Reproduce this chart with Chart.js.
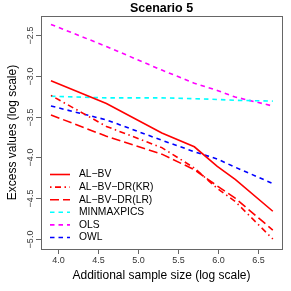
<!DOCTYPE html>
<html>
<head>
<meta charset="utf-8">
<script src="https://cdn.jsdelivr.net/npm/chart.js@4.4.0/dist/chart.umd.min.js"></script>
<style>
  html, body { margin: 0; padding: 0; background: #fff; }
  #myChart { display: block; }
</style>
</head>
<body>
<canvas id="myChart" width="291" height="291"></canvas>
<script>
// log of additional sample size
var sampleSizeLog = [3.912, 4.605, 5.298, 5.704, 5.991, 6.215, 6.685];

var alBV      = [-3.06, -3.34, -3.70, -3.87, -4.11, -4.27, -4.66];
var alBVDRKR  = [-3.24, -3.62, -3.88, -4.13, -4.38, -4.54, -5.00];
var alBVDRLR  = [-3.48, -3.74, -3.96, -4.15, -4.35, -4.50, -4.89];
var minmax    = [-3.25, -3.27, -3.27, -3.28, -3.29, -3.30, -3.31];
var ols       = [-2.37, -2.64, -2.93, -3.09, -3.18, -3.26, -3.37];
var owl       = [-3.37, -3.54, -3.79, -3.93, -4.02, -4.12, -4.32];

var seriesNames = ['AL\u2212BV', 'AL\u2212BV\u2212DR(KR)', 'AL\u2212BV\u2212DR(LR)', 'MINMAXPICS', 'OLS', 'OWL'];
var xTicks = [4.0, 4.5, 5.0, 5.5, 6.0, 6.5];
var yTicks = [-2.5, -3.0, -3.5, -4.0, -4.5, -5.0];

function pts(ys) {
  return ys.map(function (y, i) { return { x: sampleSizeLog[i], y: y }; });
}

function ds(label, ys, color, dash) {
  return {
    label: label,
    data: pts(ys),
    borderColor: color,
    borderWidth: 1.6,
    borderDash: dash,
    pointRadius: 0,
    tension: 0,
    fill: false
  };
}

var FONT = '"Liberation Sans", Arial, Helvetica, sans-serif';
function fmt(v) {
  var s = v.toFixed(1);
  return v < 0 ? '\u2212' + s.slice(1) : s;
}

var rStyle = {
  id: 'rStyle',
  afterDraw: function (chart) {
    var ctx = chart.ctx, a = chart.chartArea;
    var xs = chart.scales.x, ys = chart.scales.y;
    ctx.save();
    ctx.strokeStyle = '#666';
    ctx.lineWidth = 1;
    ctx.setLineDash([]);
    ctx.strokeRect(Math.round(a.left) + 0.5, Math.round(a.top) + 0.5,
      Math.round(a.right - a.left), Math.round(a.bottom - a.top));

    // x ticks
    ctx.fillStyle = '#333';
    ctx.font = '9px ' + FONT;
    ctx.textAlign = 'center';
    ctx.textBaseline = 'middle';
    xTicks.forEach(function (t) {
      var px = Math.round(xs.getPixelForValue(t)) + 0.5;
      ctx.beginPath();
      ctx.moveTo(px, a.bottom);
      ctx.lineTo(px, a.bottom + 5);
      ctx.stroke();
      ctx.fillText(t.toFixed(1), px, 261);
    });
    // y ticks, rotated labels
    yTicks.forEach(function (t) {
      var py = Math.round(ys.getPixelForValue(t)) + 0.5;
      ctx.beginPath();
      ctx.moveTo(a.left, py);
      ctx.lineTo(a.left - 5, py);
      ctx.stroke();
      ctx.save();
      ctx.translate(31, py);
      ctx.rotate(-Math.PI / 2);
      ctx.fillText(fmt(t), 0, 0);
      ctx.restore();
    });

    // titles
    ctx.fillStyle = '#000';
    ctx.font = 'bold 12.5px ' + FONT;
    ctx.fillText('Scenario 5', (a.left + a.right) / 2, 9);
    ctx.font = '12px ' + FONT;
    ctx.fillText('Additional sample size (log scale)', (a.left + a.right) / 2, 276);
    ctx.save();
    ctx.translate(13, (a.top + a.bottom) / 2);
    ctx.rotate(-Math.PI / 2);
    ctx.fillText('Excess values (log scale)', 0, 0);
    ctx.restore();

    // legend
    ctx.font = '10.3px ' + FONT;
    ctx.textAlign = 'left';
    chart.data.datasets.forEach(function (d, i) {
      var y = 174.5 + i * 12.6;
      ctx.strokeStyle = d.borderColor;
      ctx.lineWidth = d.borderWidth;
      ctx.setLineDash(d.borderDash || []);
      ctx.beginPath();
      ctx.moveTo(50, y);
      ctx.lineTo(70, y);
      ctx.stroke();
      ctx.fillStyle = '#000';
      ctx.fillText(d.label, 79, y);
    });
    ctx.restore();
  }
};

new Chart(document.getElementById('myChart').getContext('2d'), {
  type: 'line',
  data: {
    datasets: [
      ds(seriesNames[0], alBV, '#ff0000', []),
      ds(seriesNames[1], alBVDRKR, '#ff0000', [1.5, 3.5, 6, 3.5]),
      ds(seriesNames[2], alBVDRLR, '#ff0000', [9, 4]),
      ds(seriesNames[3], minmax, '#00ffff', [4.5, 4]),
      ds(seriesNames[4], ols, '#ff00ff', [4.5, 4]),
      ds(seriesNames[5], owl, '#0000ff', [4.5, 4])
    ]
  },
  options: {
    responsive: false,
    animation: false,
    devicePixelRatio: 1,
    layout: { padding: { top: 16, right: 9, left: 0, bottom: 0 } },
    plugins: { legend: { display: false }, title: { display: false }, tooltip: { enabled: false } },
    scales: {
      x: {
        type: 'linear', min: 3.7875, max: 6.8,
        ticks: { display: false }, grid: { display: false }, border: { display: false },
        afterFit: function (s) { s.height = 42; }
      },
      y: {
        type: 'linear', min: -5.1225, max: -2.267,
        ticks: { display: false }, grid: { display: false }, border: { display: false },
        afterFit: function (s) { s.width = 41; }
      }
    }
  },
  plugins: [rStyle]
});
</script>
</body>
</html>
